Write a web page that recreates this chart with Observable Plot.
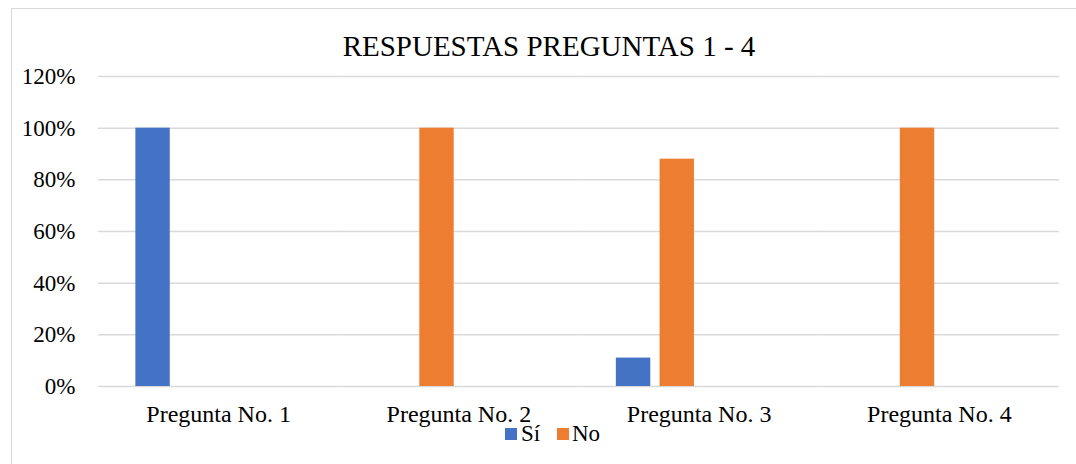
<!DOCTYPE html>
<html>
<head>
<meta charset="utf-8">
<script src="https://cdn.jsdelivr.net/npm/d3@7"></script>
<script src="https://cdn.jsdelivr.net/npm/@observablehq/plot@0.6"></script>
<style>
  html, body { margin: 0; padding: 0; background: #fff; }
  #wrap { position: relative; width: 1076px; height: 464px; overflow: hidden; font-family: "Liberation Serif", "Times New Roman", serif; color: #000; }
  #frame { position: absolute; left: 11px; top: 8px; width: 2000px; height: 2000px; border-left: 1.5px solid #d9d9d9; border-top: 1.5px solid #d9d9d9; pointer-events: none; }
  #title { position: absolute; left: 549px; top: 29px; transform: translateX(-50%); font-size: 29px; line-height: 34px; white-space: nowrap; }
  .sw { position: absolute; width: 12px; height: 12px; top: 428px; }
  .lt { position: absolute; top: 428px; font-size: 23px; line-height: 12px; white-space: nowrap; font-family: "Liberation Serif", "Times New Roman", serif; }
  #chart { position: absolute; left: 0; top: 0; }
  #chart svg text { font-family: "Liberation Serif", "Times New Roman", serif; }
  #chart svg g[aria-label="y-axis tick label"] text { font-size: 23px; }
</style>
</head>
<body>
<div id="wrap">
  <div id="chart"></div>
  <div id="frame"></div>
  <div id="title">RESPUESTAS PREGUNTAS 1 - 4</div>
  <div id="legend"></div>
</div>
<script>
const preguntas = ["Pregunta No. 1", "Pregunta No. 2", "Pregunta No. 3", "Pregunta No. 4"];
const series = ["Sí", "No", "Serie 3", "Serie 4"];
const valoresSi = [100, 0, 11, 0];
const valoresNo = [0, 100, 88, 100];
const colores = ["#4472C4", "#ED7D31", "#A5A5A5", "#FFC000"];
const yTicks = [0, 20, 40, 60, 80, 100, 120];
const legendSeries = ["Sí", "No"];

const data = [];
preguntas.forEach((p, i) => {
  data.push({pregunta: p, serie: "Sí", valor: valoresSi[i]});
  data.push({pregunta: p, serie: "No", valor: valoresNo[i]});
});

const chart = Plot.plot({
  width: 1076,
  height: 464,
  marginTop: 76,
  marginBottom: 78,
  marginLeft: 98,
  marginRight: 17,
  style: {fontFamily: '"Liberation Serif", "Times New Roman", serif', fontSize: "24px", color: "#000", background: "transparent", overflow: "visible"},
  fx: {domain: preguntas, padding: 0, round: false, label: null, axis: "bottom", tickSize: 0, tickPadding: 18},
  x: {domain: series, paddingInner: 0.213, paddingOuter: 0.855, round: false, axis: null},
  y: {domain: [0, 120], ticks: yTicks, tickFormat: d => d + "%", label: null, tickSize: 0, tickPadding: 23},
  color: {domain: series, range: colores},
  marks: [
    Plot.gridY(yTicks, {stroke: "#d9d9d9", strokeOpacity: 1, strokeWidth: 1.5}),
    Plot.barY(data, {fx: "pregunta", x: "serie", y: "valor", fill: "serie"})
  ]
});
document.getElementById("chart").appendChild(chart);

const legend = document.getElementById("legend");
const lx = [505, 557];
const tx = [521, 572];
legendSeries.forEach((s, i) => {
  const sw = document.createElement("div");
  sw.className = "sw";
  sw.style.left = lx[i] + "px";
  sw.style.background = colores[series.indexOf(s)];
  legend.appendChild(sw);
  const t = document.createElement("div");
  t.className = "lt";
  t.style.left = tx[i] + "px";
  t.textContent = s;
  legend.appendChild(t);
});
</script>
</body>
</html>
